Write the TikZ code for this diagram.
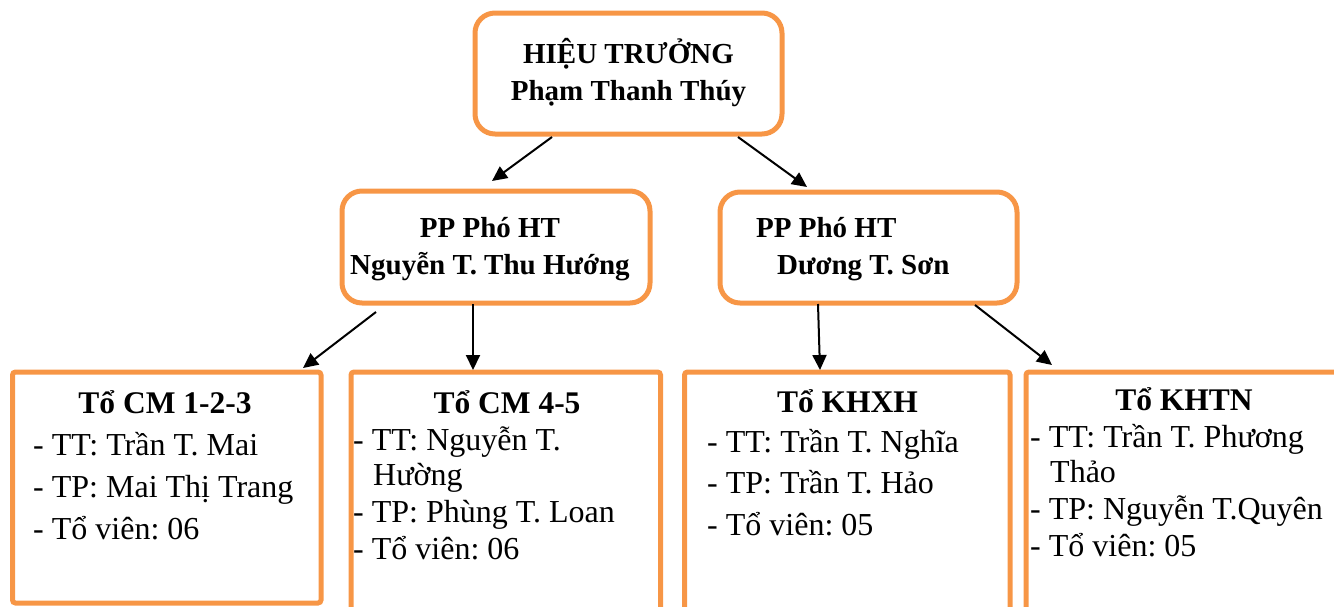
\documentclass[tikz,border=0pt]{standalone}
\usepackage{fontspec}
\setmainfont{Liberation Serif}
\usepackage{tikz}
\usetikzlibrary{arrows.meta, positioning}
\definecolor{orangeline}{HTML}{F79646}

\newcommand{\leadfont}{\fontsize{29}{37.5}\selectfont\bfseries\frenchspacing}
\newcommand{\teamfont}{\fontsize{31.5}{40}\selectfont\bfseries\frenchspacing}
\newcommand{\memberfont}[1]{\fontsize{32}{#1}\selectfont\frenchspacing}

\begin{document}
\begin{tikzpicture}[
    x=1pt, y=-1pt,
    % Estilos de las cajas
    lead/.style={
        draw=orangeline, line width=5pt, rounded corners=20pt,
        outer sep=0pt, inner sep=0pt
    },
    team/.style={
        draw=orangeline, line width=5pt, rounded corners=3pt,
        outer sep=0pt, inner sep=0pt
    },
    % Estilos de los textos
    head/.style={font=\leadfont, inner sep=0pt, anchor=north},
    teamhead/.style={font=\teamfont, inner sep=0pt, anchor=base},
    members/.style={inner sep=0pt, anchor=north west, align=left},
    % Estilo de las flechas
    arrow/.style={
        -{Triangle[length=15pt, width=14pt]}, line width=2pt, black
    }
]
    \useasboundingbox (0,0) rectangle (1334,606);
    \clip (0,0) rectangle (1334,606);

    % 1. Hiệu trưởng
    \node[lead, minimum width=307pt, minimum height=121pt] (ht) at (628.5, 73.5) {};
    \node[head, align=center] (htname) at (628.5, 36.75)
        {\strut HIỆU TRƯỞNG\\\strut Phạm Thanh Thúy};

    % 2. Phó hiệu trưởng
    \node[lead, minimum width=308pt, minimum height=112pt] (pho1) at (496, 247) {};
    \node[lead, minimum width=297pt, minimum height=111pt] (pho2) at (868.5, 247.5) {};
    \node[head, align=center] (pho1name) at (490, 210.75)
        {\strut PP Phó HT\\\strut Nguyễn T. Thu Hướng};
    \node[head, anchor=north west, align=left] (pho2name) at (756, 210.75)
        {\strut PP Phó HT\\\strut\hspace*{21pt}Dương T. Sơn};

    % 3. Tổ chuyên môn
    \node[team, minimum width=308.5pt, minimum height=231pt] (to1) at (166.75, 487.5) {};
    \node[team, minimum width=309.5pt, minimum height=252pt] (to2) at (505.75, 498) {};
    \node[team, minimum width=325.5pt, minimum height=252pt] (to3) at (847.25, 498) {};
    \node[team, minimum width=320pt, minimum height=252pt] (to4) at (1186, 498) {};

    \node[teamhead] (to1head) at (165, 413) {Tổ CM 1-2-3};
    \node[teamhead] (to2head) at (507, 413) {Tổ CM 4-5};
    \node[teamhead] (to3head) at (847.5, 412) {Tổ KHXH};
    \node[teamhead] (to4head) at (1184, 410) {Tổ KHTN};

    \node[members, font=\memberfont{42}] (to1list) at (33, 425.6)
        {\strut - TT: Trần T. Mai\\\strut - TP: Mai Thị Trang\\\strut - Tổ viên: 06};
    \node[members, font=\memberfont{37}] (to2list) at (353, 424.1)
        {\strut - TT: Nguyễn T.\\[-2pt]\strut\hspace*{20pt}Hường\\\strut - TP: Phùng T. Loan\\\strut - Tổ viên: 06};
    \node[members, font=\memberfont{41.5}] (to3list) at (707, 422.95)
        {\strut - TT: Trần T. Nghĩa\\\strut - TP: Trần T. Hảo\\\strut - Tổ viên: 05};
    \node[members, font=\memberfont{37}] (to4list) at (1030, 421.1)
        {\strut - TT: Trần T. Phương\\[-2pt]\strut\hspace*{20pt}Thảo\\\strut - TP: Nguyễn T.Quyên\\\strut - Tổ viên: 05};

    % 4. Flechas
    \draw[arrow] ([xshift=-76.5pt, yshift=-3pt]ht.south) -- ([xshift=-4pt, yshift=10pt]pho1.north);
    \draw[arrow] ([xshift=109.5pt, yshift=-3pt]ht.south) -- ([xshift=-61.5pt, yshift=5pt]pho2.north);
    \draw[arrow] ([xshift=-120pt, yshift=-9pt]pho1.south) -- ([xshift=136.25pt, yshift=4pt]to1.north);
    \draw[arrow] ([xshift=-23pt, yshift=-1pt]pho1.south) -- ([xshift=-32.75pt, yshift=2pt]to2.north);
    \draw[arrow] ([xshift=-50.5pt, yshift=-1pt]pho2.south) -- ([xshift=-27.25pt, yshift=2pt]to3.north);
    \draw[arrow] ([xshift=106.5pt, yshift=-2pt]pho2.south) -- ([xshift=-134pt, yshift=7pt]to4.north);

\end{tikzpicture}
\end{document}
